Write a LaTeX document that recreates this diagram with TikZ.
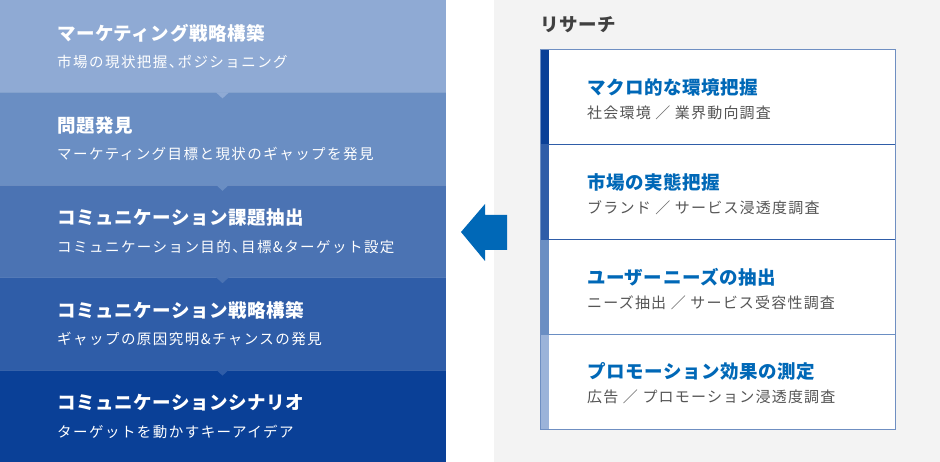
\documentclass[tikz,border=0pt]{standalone}
\usepackage{fontspec}
\usepackage{xcolor}
\usepackage{tikz}
\usetikzlibrary{positioning}
\setmainfont{Noto Sans CJK JP}

\definecolor{bandA}{HTML}{8FAAD4}
\definecolor{bandB}{HTML}{6A8EC3}
\definecolor{bandC}{HTML}{4B73B3}
\definecolor{bandD}{HTML}{2F5DA8}
\definecolor{bandE}{HTML}{0A4097}
\definecolor{barD}{HTML}{9BB3D9}
\definecolor{panelgray}{HTML}{F3F3F3}
\definecolor{resblue}{HTML}{0068B7}
\definecolor{resgray}{HTML}{555555}

\newcommand{\tenten}{、\hspace{-0.4em}}

\tikzset{
  bandtitle/.style={anchor=west,inner sep=0pt,text=white,font=\fontsize{18.5}{20}\selectfont\bfseries\addfontfeature{LetterSpace=3}},
  bandsub/.style={anchor=west,inner sep=0pt,text=white,font=\fontsize{14.5}{17}\selectfont\addfontfeature{LetterSpace=10}},
  restitle/.style={anchor=west,inner sep=0pt,text=resblue,font=\fontsize{18.5}{20}\selectfont\bfseries\addfontfeature{LetterSpace=3}},
  ressub/.style={anchor=west,inner sep=0pt,text=resgray,font=\fontsize{15}{17}\selectfont\addfontfeature{LetterSpace=8}},
}

\begin{document}
\begin{tikzpicture}[x=1pt,y=-1pt]
\useasboundingbox (0,0) rectangle (940,462);

% Research panel background
\fill[panelgray] (494,0) rectangle (940,462);

% Process bands
\foreach \i/\col/\ttl/\sub in {
  0/bandA/{マーケティング戦略構築}/{市場の現状把握\tenten ポジショニング},
  1/bandB/{問題発見}/{マーケティング目標と現状のギャップを発見},
  2/bandC/{コミュニケーション課題抽出}/{コミュニケーション目的\tenten 目標\&ターゲット設定},
  3/bandD/{コミュニケーション戦略構築}/{ギャップの原因究明\&チャンスの発見},
  4/bandE/{コミュニケーションシナリオ}/{ターゲットを動かすキーアイデア}
} {
  \fill[\col] (0,\i*92.4) rectangle (446,\i*92.4+92.4);
  \node[bandtitle] (band\i) at (57,\i*92.4+33) {\ttl};
  \node[bandsub] (bandsub\i) at (57,\i*92.4+62) {\sub};
}

% Notches between bands
\foreach \i/\col in {1/bandA,2/bandB,3/bandC,4/bandD} {
  \draw[white,opacity=0.18,line width=1pt] (0,\i*92.4+0.5) -- (446,\i*92.4+0.5);
  \fill[\col] (216,\i*92.4) -- (229,\i*92.4) -- (222.5,\i*92.4+6) -- cycle;
}

% Big arrow
\fill[resblue] (461,232) -- (485,204) -- (485,215) -- (507,215)
  -- (507,250) -- (485,250) -- (485,261) -- cycle;

% Research heading
\node[anchor=west,inner sep=0pt,text=black!75,font=\fontsize{18.5}{20}\selectfont\bfseries\addfontfeature{LetterSpace=3}]
  (research) at (540,25) {リサーチ};

% Research rows
\foreach \i/\col/\ttl/\sub in {
  0/bandE/{マクロ的な環境把握}/{社会環境 ／ 業界動向調査},
  1/bandD/{市場の実態把握}/{ブランド ／ サービス浸透度調査},
  2/bandB/{ユーザーニーズの抽出}/{ニーズ抽出 ／ サービス受容性調査},
  3/barD/{プロモーション効果の測定}/{広告 ／ プロモーション浸透度調査}
} {
  \fill[white] (540.5,50+\i*94.75) rectangle (895,50+\i*94.75+94.75);
  \fill[\col] (540.5,50+\i*94.75) rectangle (549,50+\i*94.75+94.75);
  \node[restitle] (res\i) at (587,50+\i*94.75+37.5) {\ttl};
  \node[ressub] (ressub\i) at (587,50+\i*94.75+63) {\sub};
}
\foreach \i/\col in {1/bandD,2/bandD,3/bandB} {
  \draw[\col,line width=1pt] (540.5,50+\i*94.75) -- (895,50+\i*94.75);
}
\draw[bandC!80,line width=1pt] (540.5,50) rectangle (895,429);
\end{tikzpicture}
\end{document}
